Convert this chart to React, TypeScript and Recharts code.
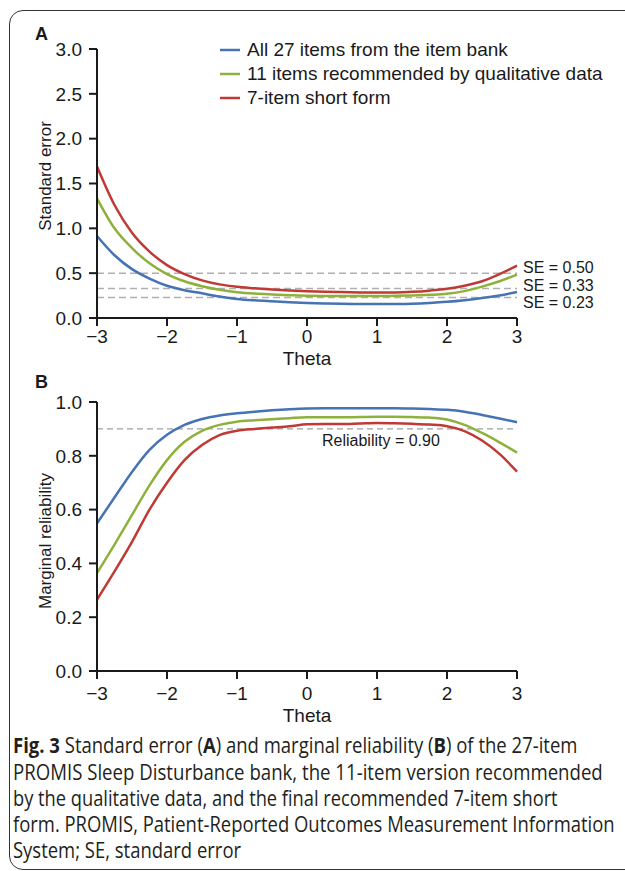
import React, { useLayoutEffect, useRef, useState } from "react";
import { LineChart, Line, XAxis, YAxis, ReferenceLine, Legend } from "recharts";

const THETA = [-3, -2.75, -2.5, -2.25, -2, -1.75, -1.5, -1.25, -1, -0.75, -0.5, -0.25, 0, 0.25, 0.5, 0.75, 1, 1.25, 1.5, 1.75, 2, 2.25, 2.5, 2.75, 3];

// panel A: standard error
const SE_ALL = [0.915, 0.7, 0.545, 0.44, 0.36, 0.31, 0.275, 0.24, 0.213, 0.197, 0.186, 0.176, 0.168, 0.162, 0.158, 0.156, 0.156, 0.157, 0.16, 0.168, 0.18, 0.198, 0.222, 0.252, 0.29];
const SE_ELEVEN = [1.335, 1.0, 0.78, 0.61, 0.49, 0.41, 0.355, 0.315, 0.288, 0.272, 0.262, 0.254, 0.248, 0.245, 0.244, 0.244, 0.245, 0.247, 0.251, 0.258, 0.27, 0.3, 0.35, 0.41, 0.483];
const SE_SEVEN = [1.69, 1.26, 0.95, 0.74, 0.59, 0.49, 0.42, 0.375, 0.348, 0.332, 0.318, 0.307, 0.298, 0.292, 0.289, 0.285, 0.283, 0.285, 0.292, 0.305, 0.325, 0.36, 0.41, 0.49, 0.585];

// panel B: marginal reliability
const REL_ALL = [0.549, 0.645, 0.74, 0.822, 0.878, 0.915, 0.937, 0.95, 0.958, 0.964, 0.969, 0.973, 0.976, 0.977, 0.977, 0.977, 0.977, 0.977, 0.976, 0.974, 0.971, 0.964, 0.952, 0.939, 0.925];
const REL_ELEVEN = [0.364, 0.47, 0.58, 0.69, 0.784, 0.852, 0.893, 0.915, 0.927, 0.932, 0.936, 0.94, 0.943, 0.943, 0.943, 0.944, 0.945, 0.945, 0.944, 0.942, 0.935, 0.915, 0.885, 0.85, 0.812];
const REL_SEVEN = [0.265, 0.37, 0.48, 0.6, 0.7, 0.784, 0.84, 0.877, 0.893, 0.9, 0.905, 0.91, 0.917, 0.918, 0.918, 0.92, 0.922, 0.921, 0.919, 0.916, 0.91, 0.892, 0.857, 0.807, 0.741];

const X_TICKS = [-3, -2, -1, 0, 1, 2, 3];
const SE_TICKS = [0, 0.5, 1, 1.5, 2, 2.5, 3];
const REL_TICKS = [0, 0.2, 0.4, 0.6, 0.8, 1];

const SE_CUTS = [0.5, 0.33, 0.23];
const SE_CUT_LABELS = ["SE = 0.50", "SE = 0.33", "SE = 0.23"];
const REL_CUT = 0.9;
const REL_CUT_LABEL = "Reliability = 0.90";

const SERIES = [
  { key: "all", name: "All 27 items from the item bank", color: "#4573b3" },
  { key: "eleven", name: "11 items recommended by qualitative data", color: "#8fb13c" },
  { key: "seven", name: "7-item short form", color: "#bf3a35" },
];

const seData = THETA.map((t, i) => ({ theta: t, all: SE_ALL[i], eleven: SE_ELEVEN[i], seven: SE_SEVEN[i] }));
const relData = THETA.map((t, i) => ({ theta: t, all: REL_ALL[i], eleven: REL_ELEVEN[i], seven: REL_SEVEN[i] }));

const FONT = '"Liberation Sans", Arial, sans-serif';
const INK = "#1a1a1a";
const CUT_SHIFT = [-5.5, -3.5, 4.6];

const fmtTheta = (v: number) => (v < 0 ? "\u2212" + Math.abs(v) : String(v));
const fmtY = (v: number) => v.toFixed(1);

const XTick = (p: any) => (
  <text x={p.x} y={p.y} dy="0.71em" textAnchor="middle" fill={INK} fontSize={19} fontFamily={FONT}>
    {fmtTheta(p.payload.value)}
  </text>
);
const YTick = (p: any) => (
  <text x={p.x} y={p.y} dy="0.355em" textAnchor="end" fill={INK} fontSize={19} fontFamily={FONT}>
    {fmtY(p.payload.value)}
  </text>
);

function LegendBox() {
  return (
    <div style={{ fontFamily: FONT, fontSize: 19, color: INK }}>
      {SERIES.map((s) => (
        <div key={s.key} style={{ display: "flex", alignItems: "center", height: 24, whiteSpace: "nowrap" }}>
          <svg width={29} height={24}>
            <line x1={2} x2={22} y1={12} y2={12} stroke={s.color} strokeWidth={2.5} />
          </svg>
          <span>{s.name}</span>
        </div>
      ))}
    </div>
  );
}

function yTitle(text: string, shift: number) {
  return (p: any) => {
    const vb = p.viewBox;
    const cy = vb.y + vb.height / 2 + shift;
    return (
      <text x={45} y={cy} dy="0.35em" textAnchor="middle" transform={`rotate(-90, 45, ${cy})`} fill={INK} fontSize={17} fontFamily={FONT}>
        {text}
      </text>
    );
  };
}

function lines() {
  return SERIES.map((s) => (
    <Line key={s.key} type="monotone" dataKey={s.key} stroke={s.color} strokeWidth={2.5} dot={false} isAnimationActive={false} />
  ));
}

const B = ({ children }: { children: React.ReactNode }) => <tspan fontWeight={700}>{children}</tspan>;

const CAPTION: React.ReactNode[] = [
  <><B>Fig. 3</B> Standard error (<B>A</B>) and marginal reliability (<B>B</B>) of the 27-item</>,
  "PROMIS Sleep Disturbance bank, the 11-item version recommended",
  "by the qualitative data, and the final recommended 7-item short",
  "form. PROMIS, Patient-Reported Outcomes Measurement Information",
  "System; SE, standard error",
];
// line widths in the figure; the last line keeps the others' squeeze
const CAPTION_W = [565, 590, 545, 602];

function Caption() {
  const refs = useRef<(SVGTextElement | null)[]>([]);
  const [sx, setSx] = useState<number[]>(CAPTION.map(() => 1));
  useLayoutEffect(() => {
    const s = CAPTION_W.map((w, i) => {
      const n = refs.current[i]?.getComputedTextLength() || w;
      return w / n;
    });
    const mean = s.reduce((a, b) => a + b, 0) / s.length;
    setSx([...s, mean]);
  }, []);
  return (
    <svg width={625} height={146} style={{ position: "absolute", left: 0, top: 725 }} fontFamily='"Open Sans", "Noto Sans", sans-serif' fontSize={21} fill="#231f20">
      {CAPTION.map((c, i) => (
        <text key={i} ref={(el) => { refs.current[i] = el; }} transform={`translate(13,${28.3 + i * 26.2}) scale(${sx[i]},1)`}>
          {c}
        </text>
      ))}
    </svg>
  );
}

const axisLine = { stroke: INK, strokeWidth: 2 };

export default function App() {
  return (
    <div style={{ width: 625, height: 871, position: "relative", overflow: "hidden", background: "#fff", fontFamily: FONT }}>
      <style>{"html,body{margin:0;padding:0;overflow:hidden}"}</style>
      <div style={{ position: "absolute", left: 9, top: 10, width: 660, height: 860, border: "1.5px solid #333", borderRadius: 14, boxSizing: "border-box" }} />
      <div style={{ position: "absolute", left: 35, top: 25, fontSize: 18, lineHeight: "18px", fontWeight: 700, color: INK }}>A</div>
      <div style={{ position: "absolute", left: 35, top: 373, fontSize: 18, lineHeight: "18px", fontWeight: 700, color: INK }}>B</div>

      <div style={{ position: "absolute", left: 0, top: 0 }}>
        <LineChart width={625} height={380} data={seData} margin={{ top: 49, right: 108, bottom: 12, left: 37 }}>
          <XAxis
            dataKey="theta" type="number" domain={[-3, 3]} ticks={X_TICKS}
            height={50} tickSize={8} tickMargin={4} tick={XTick}
            axisLine={axisLine} tickLine={axisLine}
            label={{ value: "Theta", position: "insideBottom", offset: 3, fill: INK, fontSize: 19, fontFamily: FONT }}
          />
          <YAxis
            domain={[0, 3]} ticks={SE_TICKS} width={60} tickSize={8} tickMargin={7} tick={YTick}
            axisLine={axisLine} tickLine={axisLine}
            label={{ content: yTitle("Standard error", -7.5) }}
          />
          {SE_CUTS.map((c, i) => (
            <ReferenceLine
              key={c} y={c} stroke="#b0b0b0" strokeWidth={1.5} strokeDasharray="7 4"
              label={{
                content: (p: any) => (
                  <text x={p.viewBox.x + p.viewBox.width + 6} y={p.viewBox.y + CUT_SHIFT[i]} dy="0.35em" fill={INK} fontSize={16} fontFamily={FONT}>
                    {SE_CUT_LABELS[i]}
                  </text>
                ),
              }}
            />
          ))}
          {lines()}
          <Legend layout="vertical" align="center" verticalAlign="middle" content={() => <LegendBox />}
            wrapperStyle={{ position: "absolute", left: 218, top: 38, width: 400, height: 72 }} />
        </LineChart>
      </div>

      <div style={{ position: "absolute", left: 0, top: 360 }}>
        <LineChart width={625} height={380} data={relData} margin={{ top: 42, right: 108, bottom: 9, left: 37 }}>
          <XAxis
            dataKey="theta" type="number" domain={[-3, 3]} ticks={X_TICKS}
            height={60} tickSize={8} tickMargin={8} tick={XTick}
            axisLine={axisLine} tickLine={axisLine}
            label={{ value: "Theta", position: "insideBottom", offset: 9, fill: INK, fontSize: 19, fontFamily: FONT }}
          />
          <YAxis
            domain={[0, 1]} ticks={REL_TICKS} width={60} tickSize={8} tickMargin={7} tick={YTick}
            axisLine={axisLine} tickLine={axisLine}
            label={{ content: yTitle("Marginal reliability", 4.5) }}
          />
          <ReferenceLine
            y={REL_CUT} stroke="#a0a0a0" strokeWidth={1.2} strokeDasharray="6 4"
            label={{
              content: (p: any) => (
                <text x={p.viewBox.x + 225} y={p.viewBox.y + 11} dy="0.35em" fill={INK} fontSize={16} fontFamily={FONT}>
                  {REL_CUT_LABEL}
                </text>
              ),
            }}
          />
          {lines()}
        </LineChart>
      </div>

      <Caption />
    </div>
  );
}
